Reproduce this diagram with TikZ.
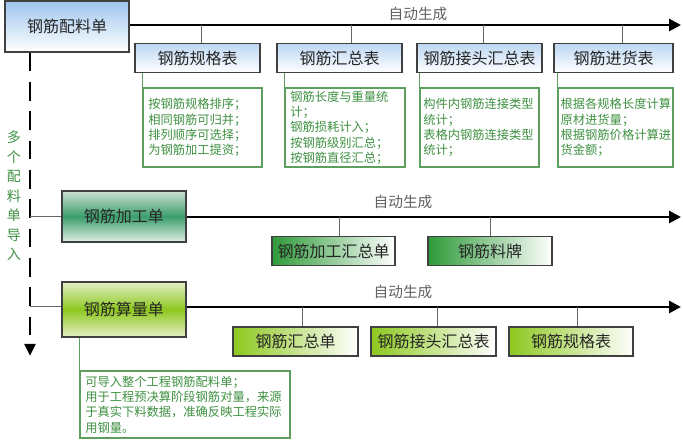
\documentclass[tikz,border=0pt]{standalone}
\usepackage{fontspec}
\setmainfont{Noto Sans CJK SC}
\usetikzlibrary{arrows.meta,calc,positioning}
\definecolor{RebarBlue}{HTML}{9EC6EE}
\definecolor{RebarBlueLight}{HTML}{BCD7F2}
\definecolor{RebarGreen}{HTML}{3A9E6C}
\definecolor{RebarGreenLight}{HTML}{CFE2D3}
\definecolor{RebarLeaf}{HTML}{2E9A38}
\definecolor{RebarLime}{HTML}{8DC81E}
\definecolor{RebarLimeLight}{HTML}{E4EFC8}
\definecolor{RebarEdge}{HTML}{404040}
\definecolor{RebarNote}{HTML}{3F9142}
\definecolor{RebarNoteEdge}{HTML}{5E9E5E}
\definecolor{RebarGray}{HTML}{606060}

\begin{document}
\begin{tikzpicture}[
  x=0.75pt,
  y=-0.75pt,
  >=Latex,
  sheet/.style={
    draw=RebarEdge,
    line width=0.9pt,
    minimum width=93pt,
    minimum height=38.25pt,
    inner sep=0pt,
    font=\fontsize{12}{14}\selectfont,
    text=black!85
  },
  table/.style={
    draw=RebarEdge,
    line width=0.9pt,
    minimum width=93.75pt,
    minimum height=21.75pt,
    inner sep=0pt,
    font=\fontsize{12}{14}\selectfont,
    text=black!85
  },
  bluetab/.style={table,top color=RebarBlueLight,bottom color=white},
  greentab/.style={table,left color=RebarLeaf,right color=white},
  limetab/.style={table,left color=RebarLime,right color=white},
  remark/.style={
    draw=RebarNoteEdge,
    fill=white,
    line width=0.9pt,
    inner xsep=4pt,
    inner ysep=0pt,
    minimum height=59.25pt,
    align=left,
    text=RebarNote,
    font=\fontsize{9.2}{11.5}\selectfont
  },
  autolabel/.style={
    text=RebarGray,
    font=\fontsize{11}{13}\selectfont
  },
  flow/.style={
    -{Triangle[length=9pt,width=9pt]},
    line width=2.2pt,
    draw=black
  },
  feed/.style={
    -{Triangle[length=9pt,width=8pt]},
    line width=2.2pt,
    dash pattern=on 14pt off 8pt,
    draw=black
  },
  tick/.style={draw=RebarEdge!80,line width=0.75pt},
  hook/.style={draw=RebarNoteEdge,line width=0.75pt}
]
\useasboundingbox (0,0) rectangle (683,448);

% rebar bending schedule (top)
\node[sheet,top color=RebarBlue,bottom color=white] (bend) at (67,26.5) {钢筋配料单};
\coordinate (end1) at (681,25);
\draw[flow] (bend.east |- end1) -- (end1);
\node[autolabel] (auto1) at (418,14) {自动生成};

\node[bluetab] (spec1) at (197.5,58) {钢筋规格表};
\node[bluetab] (sum1) at (339.5,58) {钢筋汇总表};
\node[bluetab] (joint1) at (479.5,58) {钢筋接头汇总表};
\node[bluetab,minimum width=89.25pt] (buy1) at (613.5,58) {钢筋进货表};

\foreach \n/\x in {spec1/201,sum1/351,joint1/483,buy1/622} {
  \coordinate (t\n) at (\x,25);
  \draw[tick] (t\n) -- (t\n |- \n.north);
}

\node[remark,text width=81.25pt] (note1) at (202.5,127.5)
  {按钢筋规格排序；\\相同钢筋可归并；\\排列顺序可选择；\\为钢筋加工提资；};
\node[remark,text width=82pt] (note2) at (345,127.5)
  {钢筋长度与重量统\\计；\\钢筋损耗计入；\\按钢筋级别汇总；\\按钢筋直径汇总；};
\node[remark,inner xsep=2.5pt,text width=84.25pt] (note3) at (479.5,127.5)
  {构件内钢筋连接类型\\统计；\\表格内钢筋连接类型\\统计；};
\node[remark,inner xsep=2pt,text width=82.25pt] (note4) at (615.5,127.5)
  {根据各规格长度计算\\原材进货量；\\根据钢筋价格计算进\\货金额；};

\draw[hook] (note1.north west) -- (note1.north west |- spec1.south);
\draw[hook] (note2.north west) -- (note2.north west |- sum1.south);
\draw[hook] (note3.north west) -- (note3.north west |- joint1.south);
\draw[hook] (note4.north west) -- (note4.north west |- buy1.south);

% import line
\coordinate (feedend) at (30,356);
\draw[feed] (feedend |- bend.south) -- (feedend);
\node[text=RebarNote,align=center,font=\fontsize{10.5}{14.6}\selectfont] (import) at (14,196)
  {多\\个\\配\\料\\单\\导\\入};

% processing sheet
\node[sheet,top color=RebarGreenLight,bottom color=RebarGreenLight!60!white,middle color=RebarGreen] (work) at (124,216.5) {钢筋加工单};
\coordinate (end2) at (681,217);
\draw[tick] (feedend |- end2) -- (work.west |- end2);
\draw[flow] (work.east |- end2) -- (end2);
\node[autolabel] (auto2) at (403,202) {自动生成};

\node[greentab,minimum width=92.25pt] (worksum) at (333.5,251) {钢筋加工汇总单};
\node[greentab,minimum width=93pt] (tag) at (490,251) {钢筋料牌};
\foreach \n/\x in {worksum/339,tag/490} {
  \coordinate (t\n) at (\x,217);
  \draw[tick] (t\n) -- (t\n |- \n.north);
}

% quantity sheet
\node[sheet,minimum height=41.25pt,top color=RebarLimeLight,bottom color=RebarLimeLight,middle color=RebarLime] (calc) at (124,309.5) {钢筋算量单};
\coordinate (end3) at (681,307);
\draw[tick] (feedend |- end3) -- (calc.west |- end3);
\draw[flow] (calc.east |- end3) -- (end3);
\node[autolabel] (auto3) at (403,292) {自动生成};

\node[limetab] (sum3) at (295.5,341.5) {钢筋汇总单};
\node[limetab] (joint3) at (433.5,341.5) {钢筋接头汇总表};
\node[limetab,minimum width=93pt] (spec3) at (571,341.5) {钢筋规格表};
\foreach \n/\x in {sum3/302,joint3/437,spec3/577} {
  \coordinate (t\n) at (\x,307);
  \draw[tick] (t\n) -- (t\n |- \n.north);
}

\node[remark,text width=149.5pt,minimum height=50.25pt,font=\fontsize{9.2}{11.5}\selectfont] (note5) at (185,404.5)
  {可导入整个工程钢筋配料单；\\用于工程预决算阶段钢筋对量，来源\\于真实下料数据，准确反映工程实际\\用钢量。};
\draw[hook] (note5.north west) -- (note5.north west |- calc.south);

\end{tikzpicture}
\end{document}
